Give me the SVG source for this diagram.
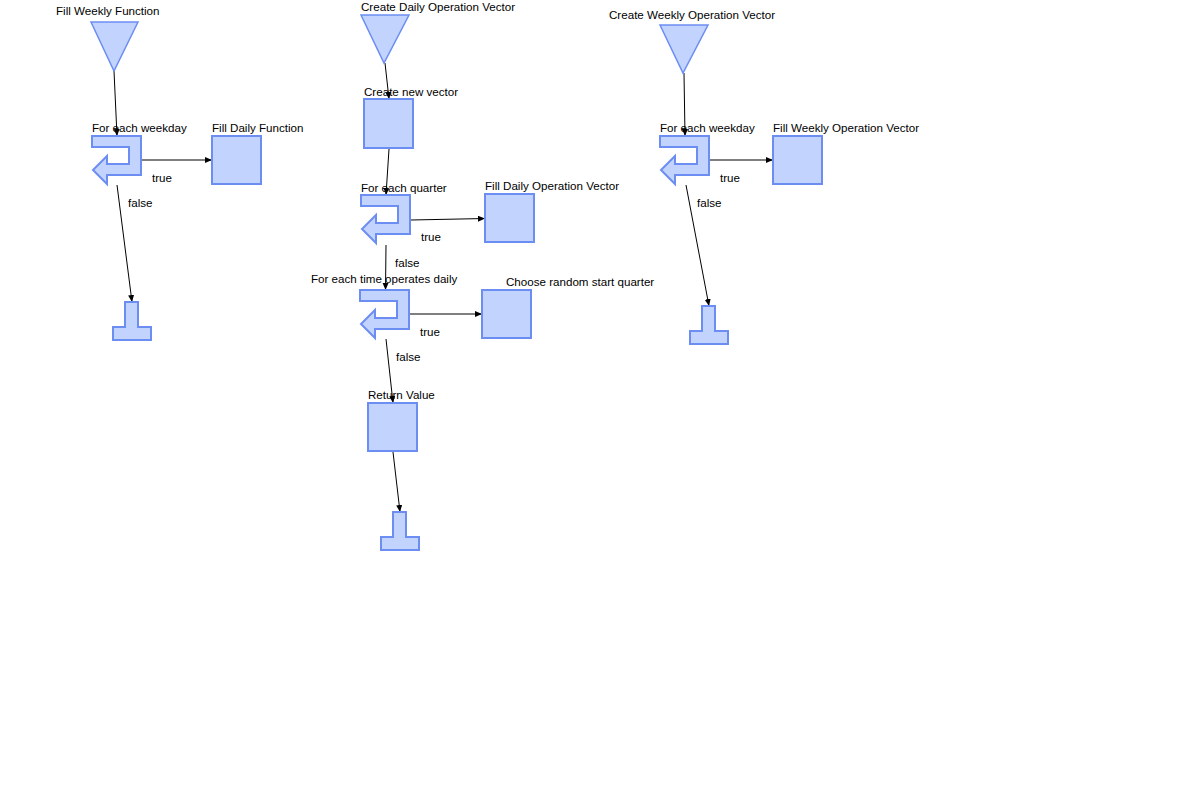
<svg xmlns="http://www.w3.org/2000/svg" width="1201" height="785" viewBox="0 0 1201 785">
<style>
.bg{fill:#ffffff}
.shape{fill:#c2d4fe;stroke:#6c8ef2;stroke-width:2}
.tri{fill:#c2d4fe;stroke:#6c8ef2;stroke-width:1.5}
.lbl{font-family:"Liberation Sans",Arial,sans-serif;font-size:11.6px;fill:#000}
.edge{stroke:#000;stroke-width:1;fill:none;marker-end:url(#arr)}
</style>
<defs>
<marker id="arr" markerUnits="userSpaceOnUse" markerWidth="8" markerHeight="7" refX="7" refY="3" orient="auto">
<path d="M0,0 L7,3 L0,6 Z" fill="#000"/>
</marker>
<path id="loopShape" d="M0,0 H49 V39 H15 V48 L1,34 L15,20 V28 H37 V11 H0 Z"/>
<path id="termShape" d="M0,0 H13 V25 H26 V38 H-12 V25 H0 Z"/>
</defs>
<rect class="bg" x="0" y="0" width="1201" height="785"/>

<g id="connectors">
<line class="edge" x1="114" y1="71" x2="117" y2="136"/>
<line class="edge" x1="141" y1="160" x2="212" y2="160"/>
<line class="edge" x1="117" y1="185" x2="132" y2="302"/>
<line class="edge" x1="385" y1="63" x2="389" y2="99"/>
<line class="edge" x1="389" y1="149" x2="386" y2="195"/>
<line class="edge" x1="411" y1="220" x2="485" y2="218.5"/>
<line class="edge" x1="386" y1="245" x2="385.5" y2="290"/>
<line class="edge" x1="410" y1="314" x2="482" y2="314"/>
<line class="edge" x1="386" y1="339" x2="393" y2="403"/>
<line class="edge" x1="393" y1="452" x2="400" y2="512"/>
<line class="edge" x1="684" y1="73" x2="685" y2="136"/>
<line class="edge" x1="710" y1="160" x2="773" y2="160"/>
<line class="edge" x1="686" y1="185" x2="709" y2="306"/>
<text class="lbl" x="152" y="182">true</text>
<text class="lbl" x="128" y="207">false</text>
<text class="lbl" x="421" y="241">true</text>
<text class="lbl" x="395" y="267">false</text>
<text class="lbl" x="420" y="336">true</text>
<text class="lbl" x="396" y="361">false</text>
<text class="lbl" x="720" y="182">true</text>
<text class="lbl" x="697" y="207">false</text>
</g>

<g id="start-fill-weekly-function">
<polygon class="tri" points="91,22 138,22 114,71"/>
<text class="lbl" x="56" y="15">Fill Weekly Function</text>
</g>
<g id="loop-each-weekday-1">
<use href="#loopShape" class="shape" transform="translate(92,136)"/>
<text class="lbl" x="92" y="132">For each weekday</text>
</g>
<g id="fill-daily-function">
<rect class="shape" x="212" y="136" width="49" height="48"/>
<text class="lbl" x="212" y="132">Fill Daily Function</text>
</g>
<g id="end-1">
<use href="#termShape" class="shape" transform="translate(125,302)"/>
</g>

<g id="start-create-daily-operation-vector">
<polygon class="tri" points="361,15 409,15 384,63"/>
<text class="lbl" x="361" y="11">Create Daily Operation Vector</text>
</g>
<g id="create-new-vector">
<rect class="shape" x="364" y="99" width="49" height="49"/>
<text class="lbl" x="364" y="96">Create new vector</text>
</g>
<g id="loop-each-quarter">
<use href="#loopShape" class="shape" transform="translate(361,195)"/>
<text class="lbl" x="361" y="192">For each quarter</text>
</g>
<g id="fill-daily-operation-vector">
<rect class="shape" x="485" y="194" width="49" height="48"/>
<text class="lbl" x="485" y="190">Fill Daily Operation Vector</text>
</g>
<g id="loop-each-time-operates-daily">
<use href="#loopShape" class="shape" transform="translate(360,290)"/>
<text class="lbl" x="311" y="283">For each time operates daily</text>
</g>
<g id="choose-random-start-quarter">
<rect class="shape" x="482" y="290" width="49" height="48"/>
<text class="lbl" x="506" y="286">Choose random start quarter</text>
</g>
<g id="return-value">
<rect class="shape" x="368" y="403" width="49" height="48"/>
<text class="lbl" x="368" y="399">Return Value</text>
</g>
<g id="end-2">
<use href="#termShape" class="shape" transform="translate(393,512)"/>
</g>

<g id="start-create-weekly-operation-vector">
<polygon class="tri" points="660,25 708,25 683,73"/>
<text class="lbl" x="609" y="19">Create Weekly Operation Vector</text>
</g>
<g id="loop-each-weekday-2">
<use href="#loopShape" class="shape" transform="translate(660,136)"/>
<text class="lbl" x="660" y="132">For each weekday</text>
</g>
<g id="fill-weekly-operation-vector">
<rect class="shape" x="773" y="136" width="49" height="48"/>
<text class="lbl" x="773" y="132">Fill Weekly Operation Vector</text>
</g>
<g id="end-3">
<use href="#termShape" class="shape" transform="translate(702,306)"/>
</g>
</svg>
